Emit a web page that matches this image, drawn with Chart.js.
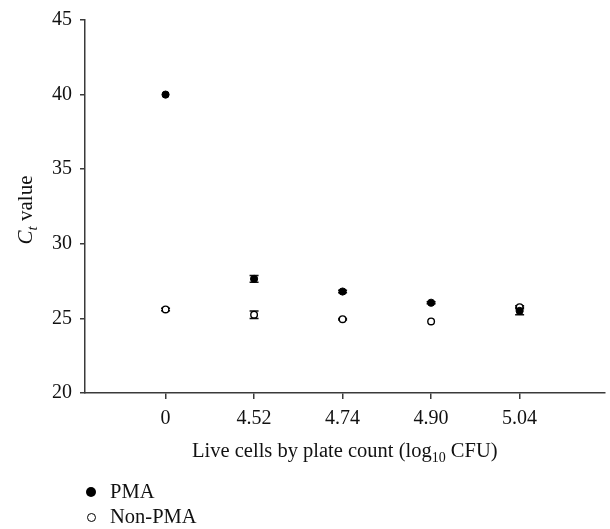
<!DOCTYPE html>
<html lang="en">
<head>
    <meta charset="UTF-8">
    <title>Ct value vs live cells</title>
    <script src="https://cdn.jsdelivr.net/npm/chart.js"></script>
    <style>
        body { margin: 0; background: #fff; font-family: "Liberation Serif", serif; }
        .wrap { position: relative; width: 610px; height: 529px; }
        #legend { position: absolute; left: 86px; top: 479px; font-size: 20.5px; color: #111; line-height: 25px; }
        #legend .dot { display: inline-block; width: 10px; height: 10px; border-radius: 50%; margin-right: 14px; vertical-align: 1px; box-sizing: border-box; }
        #legend .filled { background: #000; }
        #legend .open { background: #fff; border: 1.4px solid #000; width: 9px; height: 9px; margin-left: 1px; }
    </style>
</head>
<body>
    <div class="wrap">
        <canvas id="ctChart" width="610" height="529"></canvas>
        <div id="legend">
            <div><span class="dot filled"></span>PMA</div>
            <div><span class="dot open"></span>Non-PMA</div>
        </div>
    </div>

    <script>
        // categories on x (log10 CFU), placed at 1..5
        var categories = ['0', '4.52', '4.74', '4.90', '5.04'];
        var pmaCt = [40.0, 27.65, 26.8, 26.05, 25.5];
        var pmaErr = [0, 0.22, 0.08, 0.06, 0.25];
        var nonPmaCt = [25.6, 25.25, 24.95, 24.8, 25.75];
        var nonPmaErr = [0.08, 0.25, 0.05, 0, 0.1];
        var yTicks = [20, 25, 30, 35, 40, 45];

        function toPoints(vals) {
            return vals.map(function (v, i) { return { x: i + 1, y: v }; });
        }

        var axisColor = '#3a3a3a';

        // error bars, drawn under the markers
        var errorBars = {
            id: 'errorBars',
            beforeDatasetsDraw: function (chart) {
                var ctx = chart.ctx, xs = chart.scales.x, ys = chart.scales.y;
                ctx.save();
                ctx.strokeStyle = '#111';
                ctx.lineWidth = 1.5;
                chart.data.datasets.forEach(function (ds) {
                    ds.data.forEach(function (p, i) {
                        var e = ds.err[i];
                        if (!e) return;
                        var x = xs.getPixelForValue(p.x);
                        var y1 = ys.getPixelForValue(p.y + e);
                        var y2 = ys.getPixelForValue(p.y - e);
                        ctx.beginPath();
                        ctx.moveTo(x, y1); ctx.lineTo(x, y2);
                        ctx.moveTo(x - 4.5, y1); ctx.lineTo(x + 4.5, y1);
                        ctx.moveTo(x - 4.5, y2); ctx.lineTo(x + 4.5, y2);
                        ctx.stroke();
                    });
                });
                ctx.restore();
            }
        };

        // axis titles with subscripts
        var axisTitles = {
            id: 'axisTitles',
            afterDraw: function (chart) {
                var ctx = chart.ctx, area = chart.chartArea;
                ctx.save();
                ctx.fillStyle = '#111';
                ctx.textBaseline = 'alphabetic';

                // x title
                var parts = [
                    { t: 'Live cells by plate count (log', f: '20.5px "Liberation Serif"', dy: 0 },
                    { t: '10', f: '14px "Liberation Serif"', dy: 5 },
                    { t: ' CFU)', f: '20.5px "Liberation Serif"', dy: 0 }
                ];
                var w = 0;
                parts.forEach(function (p) { ctx.font = p.f; w += ctx.measureText(p.t).width; });
                var x = (area.left + area.right) / 2 - w / 2, y = 457;
                parts.forEach(function (p) {
                    ctx.font = p.f;
                    ctx.fillText(p.t, x, y + p.dy);
                    x += ctx.measureText(p.t).width;
                });

                // y title, rotated
                var yparts = [
                    { t: 'C', f: 'italic 21px "Liberation Serif"', dy: 0 },
                    { t: 't', f: 'italic 15px "Liberation Serif"', dy: 5 },
                    { t: ' value', f: '21px "Liberation Serif"', dy: 0 }
                ];
                w = 0;
                yparts.forEach(function (p) { ctx.font = p.f; w += ctx.measureText(p.t).width; });
                ctx.translate(32, 210);
                ctx.rotate(-Math.PI / 2);
                x = -w / 2;
                yparts.forEach(function (p) {
                    ctx.font = p.f;
                    ctx.fillText(p.t, x, p.dy);
                    x += ctx.measureText(p.t).width;
                });
                ctx.restore();
            }
        };

        var ctx = document.getElementById('ctChart').getContext('2d');
        var chart = new Chart(ctx, {
            type: 'scatter',
            data: {
                datasets: [{
                    label: 'PMA',
                    data: toPoints(pmaCt),
                    err: pmaErr,
                    pointRadius: 3.6,
                    pointBackgroundColor: '#000',
                    pointBorderColor: '#000',
                    pointBorderWidth: 1
                }, {
                    label: 'Non-PMA',
                    data: toPoints(nonPmaCt),
                    err: nonPmaErr,
                    pointRadius: 3.3,
                    pointBackgroundColor: '#fff',
                    pointBorderColor: '#000',
                    pointBorderWidth: 1.4
                }]
            },
            options: {
                responsive: false,
                animation: false,
                layout: { padding: { top: 17, right: 3, bottom: 96, left: 0 } },
                plugins: {
                    legend: { display: false },
                    tooltip: { enabled: false }
                },
                scales: {
                    x: {
                        type: 'linear',
                        min: 0.09,
                        max: 5.96,
                        afterBuildTicks: function (scale) {
                            scale.ticks = categories.map(function (c, i) { return { value: i + 1 }; });
                        },
                        afterFit: function (scale) { scale.height = 40; },
                        ticks: {
                            callback: function (v) { return categories[v - 1]; },
                            font: { family: '"Liberation Serif"', size: 20 },
                            color: '#111',
                            padding: 8,
                            maxRotation: 0
                        },
                        grid: { drawOnChartArea: false, drawTicks: true, tickLength: 6, color: axisColor, lineWidth: 1.5 },
                        border: { display: true, color: axisColor, width: 1.5 }
                    },
                    y: {
                        min: 20,
                        max: 45,
                        afterBuildTicks: function (scale) {
                            scale.ticks = yTicks.map(function (v) { return { value: v }; });
                        },
                        afterFit: function (scale) { scale.width = 85; },
                        ticks: {
                            font: { family: '"Liberation Serif"', size: 20 },
                            color: '#111',
                            padding: 8
                        },
                        grid: { drawOnChartArea: false, drawTicks: true, tickLength: 5, color: axisColor, lineWidth: 1.5 },
                        border: { display: true, color: axisColor, width: 1.5 }
                    }
                }
            },
            plugins: [errorBars, axisTitles]
        });
    </script>
</body>
</html>
